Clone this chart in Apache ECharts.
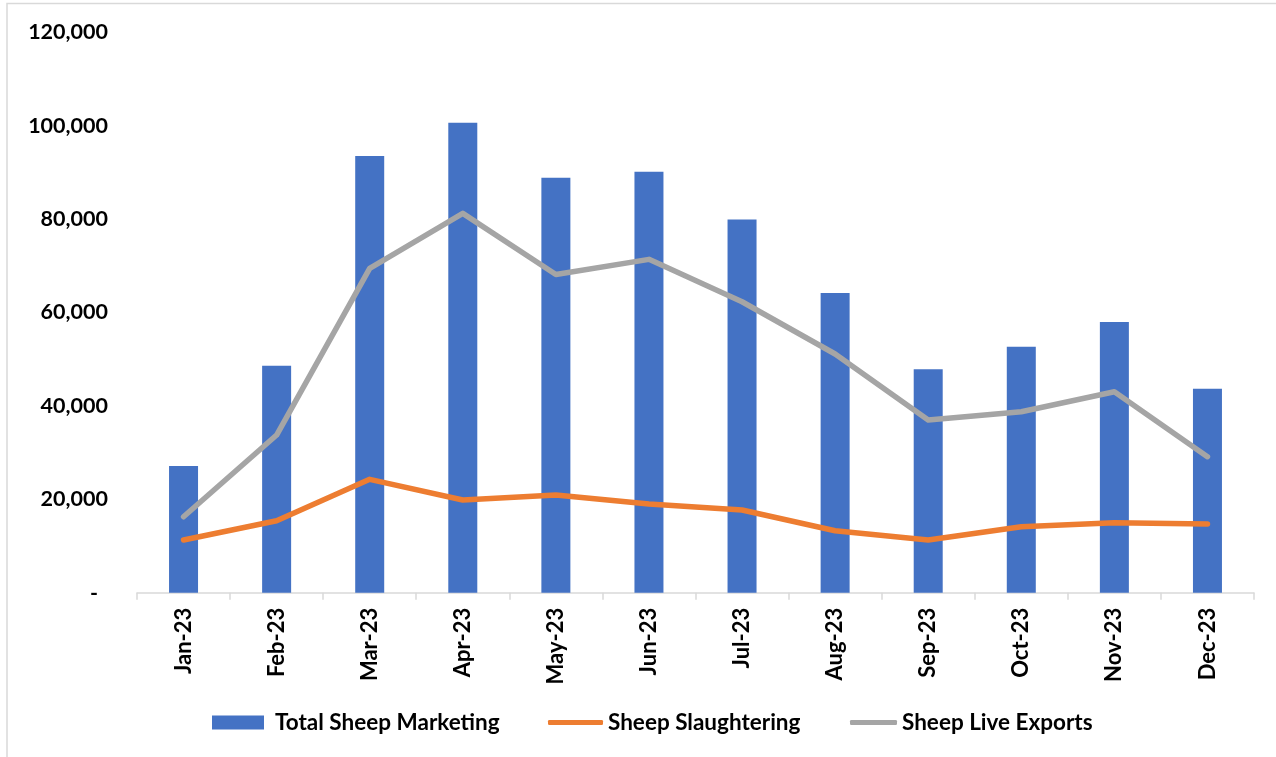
<!DOCTYPE html>
<html>
<head>
<meta charset="utf-8">
<script src="https://cdn.jsdelivr.net/npm/echarts@6/dist/echarts.min.js"></script>
<style>
  html, body { margin: 0; padding: 0; background: #ffffff; }
  #chart { width: 1276px; height: 757px; }
</style>
</head>
<body>
<div id="chart"></div>
<script>
// Monthly sheep movements, 2023
const months = ['Jan-23', 'Feb-23', 'Mar-23', 'Apr-23', 'May-23', 'Jun-23',
                'Jul-23', 'Aug-23', 'Sep-23', 'Oct-23', 'Nov-23', 'Dec-23'];
const totalMarketing = [27130, 48600, 93500, 100630, 88850, 90140,
                        79940, 64170, 47830, 52670, 57960, 43680];
const slaughtering = [11280, 15420, 24280, 19850, 20920, 18990,
                      17700, 13270, 11280, 14130, 14990, 14710];
const liveExports = [16270, 33760, 69450, 81230, 68130, 71380,
                     62300, 51110, 36970, 38750, 43030, 29120];
const yTicks = [0, 20000, 40000, 60000, 80000, 100000, 120000];

const FONT = 'Lato, "Liberation Sans", sans-serif';
const BLUE = '#4472C4', ORANGE = '#ED7D31', GREY = '#A5A5A5';

const chart = echarts.init(document.getElementById('chart'), null, { renderer: 'canvas' });

// One legend block per series so each entry sits at its own spot
function legendFor(name, left, width, height, icon, gap) {
  return {
    data: [{ name: name, icon: icon }],
    left: left,
    top: 711,
    itemWidth: width,
    itemHeight: height,
    itemGap: 0,
    padding: 0,
    selectedMode: false,
    textStyle: {
      fontFamily: FONT, fontWeight: 'bold', fontSize: 22.5, color: '#000000',
      padding: [0, 0, 0, gap]
    }
  };
}

chart.setOption({
  animation: false,
  backgroundColor: '#ffffff',
  graphic: [{
    type: 'rect',
    shape: { x: 7, y: 3.5, width: 1300, height: 800 },
    style: { fill: 'none', stroke: '#d9d9d9', lineWidth: 1.5 },
    silent: true
  }],
  grid: { left: 137, right: 22, top: 32.3, bottom: 164.3 },
  legend: [
    legendFor('Total Sheep Marketing', 212, 52, 14, 'rect', 6),
    legendFor('Sheep Slaughtering', 548, 55, 5, 'roundRect', 0),
    legendFor('Sheep Live Exports', 850, 47, 5, 'roundRect', 0)
  ],
  xAxis: {
    type: 'category',
    data: months,
    boundaryGap: true,
    axisLine: { show: true, lineStyle: { color: '#d9d9d9', width: 1.5 } },
    axisTick: { show: true, length: 7, lineStyle: { color: '#d9d9d9', width: 1.5 } },
    axisLabel: {
      rotate: 90, margin: 15, interval: 0,
      fontFamily: FONT, fontWeight: 'bold', fontSize: 22, color: '#000000'
    },
    splitLine: { show: false }
  },
  yAxis: {
    type: 'value',
    min: yTicks[0],
    max: yTicks[yTicks.length - 1],
    interval: yTicks[1] - yTicks[0],
    axisLine: { show: false },
    axisTick: { show: false },
    splitLine: { show: false },
    axisLabel: {
      margin: 29,
      fontFamily: FONT, fontWeight: 'bold', fontSize: 21.5, color: '#000000',
      formatter: function (v) {
        if (v === 0) return '{dash|-}';
        return v.toLocaleString('en-US');
      },
      rich: {
        dash: { fontFamily: FONT, fontWeight: 'bold', fontSize: 21.5, color: '#000000', padding: [0, 10, 0, 0] }
      }
    }
  },
  series: [
    {
      name: 'Total Sheep Marketing',
      type: 'bar',
      data: totalMarketing,
      barWidth: 29,
      itemStyle: { color: BLUE },
      z: 1
    },
    {
      name: 'Sheep Slaughtering',
      type: 'line',
      data: slaughtering,
      symbol: 'none',
      smooth: false,
      itemStyle: { color: ORANGE },
      lineStyle: { color: ORANGE, width: 5.5, cap: 'round', join: 'round' },
      z: 3
    },
    {
      name: 'Sheep Live Exports',
      type: 'line',
      data: liveExports,
      symbol: 'none',
      smooth: false,
      itemStyle: { color: GREY },
      lineStyle: { color: GREY, width: 5.5, cap: 'round', join: 'round' },
      z: 2
    }
  ]
});
</script>
</body>
</html>
